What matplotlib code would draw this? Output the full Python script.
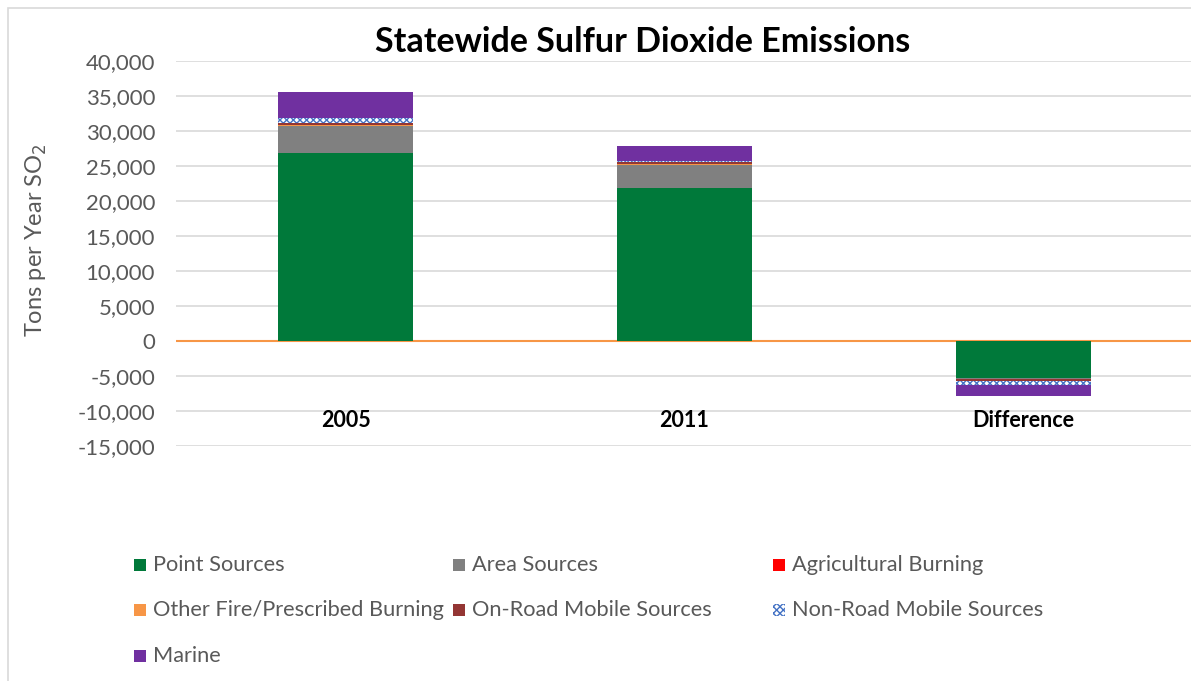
import matplotlib
matplotlib.use("Agg")
import matplotlib.pyplot as plt
from matplotlib.patches import Rectangle
from matplotlib.ticker import FuncFormatter
import numpy as np

categories = ["2005", "2011", "Difference"]
series_names = ["Point Sources", "Area Sources", "Agricultural Burning",
                "Other Fire/Prescribed Burning", "On-Road Mobile Sources",
                "Non-Road Mobile Sources", "Marine"]
point_sources = [26900, 21900, -5300]
area_sources = [3800, 3250, -60]
agricultural_burning = [60, 40, -20]
other_fire = [40, 60, 20]
on_road = [350, 300, -280]
non_road = [700, 120, -650]
marine = [3650, 2150, -1500]

colors = ["#00793A", "#808080", "#FF0000", "#F79646", "#943634", "white", "#7030A0"]

plt.rcParams['font.family'] = ['Lato', 'DejaVu Sans']

W, H = 1191, 681
fig = plt.figure(figsize=(W / 100, H / 100), dpi=100)
ax = fig.add_axes([176 / W, 1 - 446 / H, 1017 / W, (446 - 61) / H])

# outer chart border
fig.patches.append(Rectangle((8 / W, -0.01), 1.1, 1 - 8 / H + 0.01, transform=fig.transFigure,
                             fill=False, edgecolor="#D9D9D9", linewidth=1.2))

x = np.arange(len(categories))
data = [point_sources, area_sources, agricultural_burning, other_fire, on_road, non_road, marine]
pos_base = np.zeros(len(categories))
neg_base = np.zeros(len(categories))
for name, vals, col in zip(series_names, data, colors):
    vals = np.array(vals, dtype=float)
    bottoms = np.where(vals >= 0, pos_base, neg_base)
    if name == "Non-Road Mobile Sources":
        ax.bar(x, vals, width=0.4, bottom=bottoms, color="white", edgecolor="#4472C4",
               hatch="xxxxx", linewidth=0, zorder=3)
    else:
        ax.bar(x, vals, width=0.4, bottom=bottoms, color=col, linewidth=0, zorder=3)
    pos_base = pos_base + np.where(vals >= 0, vals, 0)
    neg_base = neg_base + np.where(vals < 0, vals, 0)

ax.set_xlim(-0.5, 2.5)
ax.set_ylim(-15000, 40000)
ax.set_yticks(np.arange(-15000, 40001, 5000))
ax.yaxis.set_major_formatter(FuncFormatter(lambda v, p: f"{int(v):,}"))
ax.tick_params(axis='y', length=0, labelsize=16, labelcolor="#595959", pad=15)
ax.set_xticks([])
ax.grid(axis='y', color="#D9D9D9", linewidth=1.2, zorder=0)
ax.axhline(0, color="#F79646", linewidth=1.5, zorder=2)
for s in ax.spines.values():
    s.set_visible(False)

for xi, c in zip(x, categories):
    ax.text(xi, -11300, c, ha='center', va='center', fontsize=15.5, fontweight='bold',
            color='black', zorder=4)

ax.set_ylabel("Tons per Year SO$_2$", fontsize=17, color="#595959")
ax.yaxis.set_label_coords((49 - 176) / 1017, (446 - 240) / 385)

fig.text(643 / W, 1 - 42 / H, "Statewide Sulfur Dioxide Emissions", ha='center', va='center',
         fontsize=24.5, fontweight='bold', color='black')

# legend laid out in rows like the original (3 columns)
col_marker_x = [134, 453, 773]
row_y = [565, 610, 656]
for i, (name, col) in enumerate(zip(series_names, colors)):
    r, c = divmod(i, 3)
    mx, my = col_marker_x[c], row_y[r]
    if name == "Non-Road Mobile Sources":
        rect = Rectangle((mx / W, 1 - (my + 6) / H), 12 / W, 12 / H, transform=fig.transFigure,
                         facecolor="white", edgecolor="#4472C4", hatch="xxxxx", linewidth=0)
    else:
        rect = Rectangle((mx / W, 1 - (my + 6) / H), 12 / W, 12 / H, transform=fig.transFigure,
                         facecolor=col, linewidth=0)
    fig.patches.append(rect)
    fig.text((mx + 19) / W, 1 - my / H, name, ha='left', va='center', fontsize=15.7,
             color="#595959")

fig.savefig("out.png", dpi=100)
